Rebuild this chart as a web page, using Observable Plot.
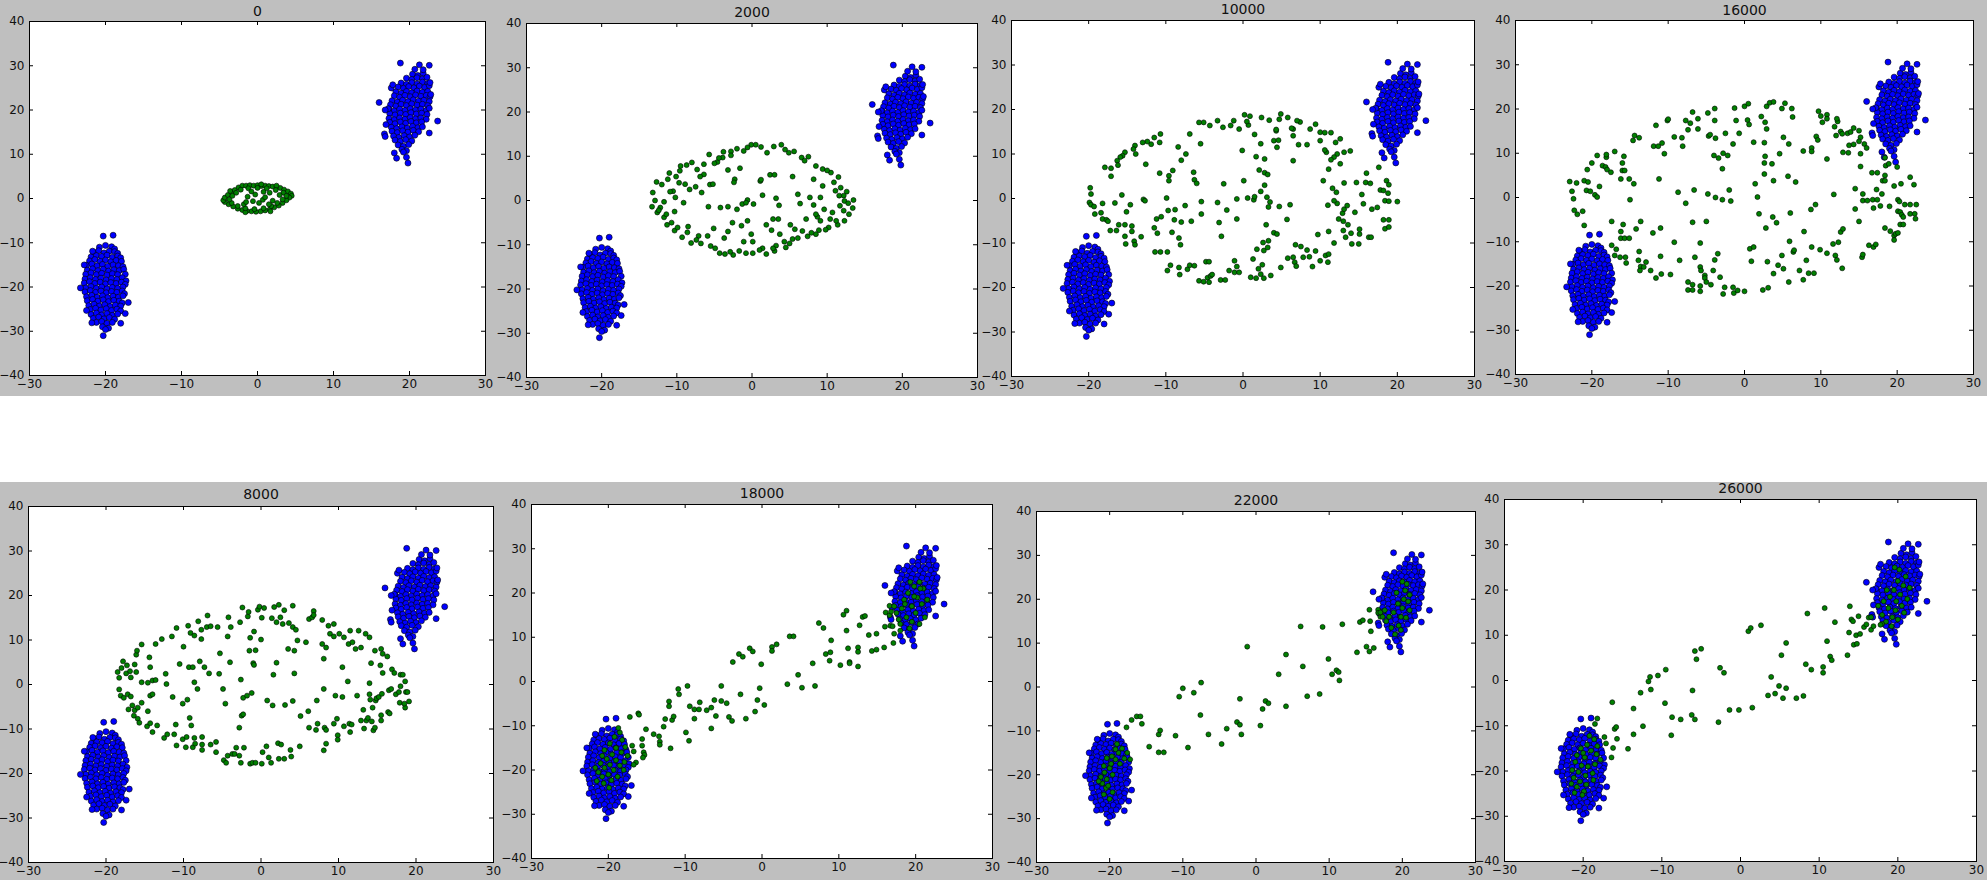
<!DOCTYPE html>
<html>
<head>
<meta charset="utf-8">
<script src="https://cdn.jsdelivr.net/npm/d3@7"></script>
<script src="https://cdn.jsdelivr.net/npm/@observablehq/plot@0.6"></script>
<style>
  body { margin: 0; background: white; width: 1987px; height: 883px; position: relative; overflow: hidden; }
  .band { position: absolute; left: 0; width: 1987px; background: #bfbfbf; }
  svg { position: absolute; }
</style>
</head>
<body>
<div class="band" style="top:0;height:396px"></div>
<div class="band" style="top:482px;height:398px"></div>
<div id="charts"></div>
<script>
var titles = ["0", "2000", "10000", "16000", "8000", "18000", "22000", "26000"];
var xTicks = [-30, -20, -10, 0, 10, 20, 30];
var yTicks = [-40, -30, -20, -10, 0, 10, 20, 30, 40];

// the two blue clusters are the same in every frame
var blueLeft = [
  [-20.8,-11.0],[-20.0,-10.6],[-19.2,-10.9],[-18.8,-11.4],
  [-21.6,-12.1],[-20.9,-11.8],[-20.2,-12.3],[-19.5,-11.9],[-18.8,-12.0],[-18.4,-12.4],
  [-21.9,-13.2],[-21.2,-12.9],[-20.5,-13.1],[-19.8,-12.8],[-19.1,-13.3],[-18.4,-13.0],[-18.0,-13.4],
  [-22.1,-14.1],[-21.4,-13.8],[-20.7,-14.2],[-20.0,-13.9],[-19.3,-14.3],[-18.6,-14.0],[-17.9,-14.2],
  [-22.5,-15.1],[-21.8,-14.8],[-21.1,-15.2],[-20.4,-14.9],[-19.7,-15.3],[-19.0,-15.0],[-18.3,-15.2],[-17.7,-15.4],
  [-22.4,-16.2],[-21.7,-15.9],[-21.0,-16.3],[-20.3,-16.0],[-19.6,-16.4],[-18.9,-16.1],[-18.2,-16.3],[-17.6,-16.0],
  [-22.6,-17.1],[-21.9,-16.8],[-21.2,-17.2],[-20.5,-16.9],[-19.8,-17.3],[-19.1,-17.0],[-18.4,-17.2],[-17.4,-17.1],
  [-22.7,-18.2],[-22.0,-17.9],[-21.3,-18.3],[-20.6,-18.0],[-19.9,-18.4],[-19.2,-18.1],[-18.5,-18.3],[-17.8,-17.9],[-17.3,-18.6],
  [-22.8,-19.1],[-22.1,-18.8],[-21.4,-19.2],[-20.7,-18.9],[-20.0,-19.3],[-19.3,-19.0],[-18.6,-19.2],[-17.9,-18.9],[-17.4,-19.4],
  [-22.6,-20.2],[-21.9,-19.9],[-21.2,-20.3],[-20.5,-20.0],[-19.8,-20.4],[-19.1,-20.1],[-18.4,-20.3],[-17.7,-20.0],
  [-22.7,-21.1],[-22.0,-20.8],[-21.3,-21.2],[-20.6,-20.9],[-19.9,-21.3],[-19.2,-21.0],[-18.5,-21.2],[-17.8,-20.9],[-17.5,-21.5],
  [-22.5,-22.2],[-21.8,-21.9],[-21.1,-22.3],[-20.4,-22.0],[-19.7,-22.4],[-19.0,-22.1],[-18.3,-22.3],[-17.7,-22.0],
  [-22.4,-23.1],[-21.7,-22.8],[-21.0,-23.2],[-20.3,-22.9],[-19.6,-23.3],[-18.9,-23.0],[-18.2,-23.2],[-17.8,-23.6],
  [-22.2,-24.2],[-21.5,-23.9],[-20.8,-24.3],[-20.1,-24.0],[-19.4,-24.4],[-18.7,-24.1],[-18.0,-24.3],
  [-22.0,-25.1],[-21.3,-24.8],[-20.6,-25.2],[-19.9,-24.9],[-19.2,-25.3],[-18.5,-25.0],[-18.0,-25.4],
  [-21.9,-26.2],[-21.2,-25.9],[-20.5,-26.3],[-19.8,-26.0],[-19.1,-26.4],[-18.4,-26.1],
  [-21.6,-27.1],[-20.9,-26.8],[-20.2,-27.2],[-19.5,-26.9],[-18.8,-27.3],
  [-21.2,-28.0],[-20.5,-27.8],[-19.8,-28.2],[-19.1,-28.0],
  [-20.4,-29.0],[-19.6,-29.3],
  [-20.3,-8.5],[-19.0,-8.3],[-23.3,-20.2],[-20.3,-31.0],[-20.0,-29.6],[-17.0,-23.5],
  [-22.8,-15.0],[-21.7,-11.9],[-22.5,-25.3],[-17.4,-26.0],[-18.0,-28.2],[-21.8,-28.1]
];
var blueRight = [
  [20.4,28.1],[21.1,27.8],[21.8,28.3],
  [19.6,27.2],[20.3,26.9],[21.0,27.3],[21.7,27.0],[22.3,27.4],
  [18.9,26.1],[19.6,25.8],[20.3,26.2],[21.0,25.9],[21.7,26.3],[22.4,26.0],
  [18.5,25.2],[19.2,24.9],[19.9,25.3],[20.6,25.0],[21.3,25.4],[22.0,25.1],[22.6,25.5],
  [18.2,24.1],[18.9,23.8],[19.6,24.2],[20.3,23.9],[21.0,24.3],[21.7,24.0],[22.4,24.2],
  [18.0,23.2],[18.7,22.9],[19.4,23.3],[20.1,23.0],[20.8,23.4],[21.5,23.1],[22.2,23.3],[22.7,23.0],
  [17.7,22.1],[18.4,21.8],[19.1,22.2],[19.8,21.9],[20.5,22.3],[21.2,22.0],[21.9,22.2],[22.6,21.9],
  [17.5,21.2],[18.2,20.9],[18.9,21.3],[19.6,21.0],[20.3,21.4],[21.0,21.1],[21.7,21.3],[22.4,21.0],
  [17.3,20.1],[18.0,19.8],[18.7,20.2],[19.4,19.9],[20.1,20.3],[20.8,20.0],[21.5,20.2],[22.2,19.9],[22.6,20.4],
  [17.4,19.2],[18.1,18.9],[18.8,19.3],[19.5,19.0],[20.2,19.4],[20.9,19.1],[21.6,19.3],[22.3,19.0],
  [17.3,18.1],[18.0,17.8],[18.7,18.2],[19.4,17.9],[20.1,18.3],[20.8,18.0],[21.5,18.2],[22.2,17.9],
  [17.4,17.2],[18.1,16.9],[18.8,17.3],[19.5,17.0],[20.2,17.4],[20.9,17.1],[21.6,17.3],
  [17.6,16.1],[18.3,15.8],[19.0,16.2],[19.7,15.9],[20.4,16.3],[21.1,16.0],[21.7,16.2],
  [17.7,15.2],[18.4,14.9],[19.1,15.3],[19.8,15.0],[20.5,15.4],[21.2,15.1],
  [17.9,14.1],[18.6,13.8],[19.3,14.2],[20.0,13.9],[20.7,14.3],
  [18.1,13.2],[18.8,12.9],[19.5,13.3],[20.3,13.0],
  [18.5,12.1],[19.2,11.8],[19.9,12.2],
  [19.0,11.1],[19.6,10.8],
  [18.8,30.6],[21.3,30.2],[22.6,30.1],[20.7,29.2],[21.8,29.1],[16.0,21.7],[23.7,17.5],
  [16.9,16.7],[17.6,25.0],[17.8,25.7],[16.7,14.6],[16.8,14.0],[18.0,10.3],[18.3,9.1],
  [19.6,9.3],[19.8,8.0],[19.2,10.5],[22.6,14.8],[22.8,23.5],[22.7,26.2],[17.2,20.3],[16.8,20.0]
];

var green0 = [
  [-2.5,2.5],[-2.0,2.9],[-1.5,2.9],[-1.0,3.0],[-0.5,2.9],[0.0,3.0],[0.5,2.8],[1.0,2.9],[1.5,2.8],
  [2.0,2.7],[2.5,2.6],[3.0,2.4],[3.5,2.0],[4.0,1.6],[4.4,1.1],[4.5,0.6],[4.2,0.2],[3.8,-0.4],
  [3.3,-1.0],[2.8,-1.6],[2.2,-2.0],[1.6,-2.5],[1.0,-2.7],[0.4,-2.9],[-0.2,-3.0],[-0.8,-2.9],
  [-1.4,-2.8],[-2.0,-2.6],[-2.6,-2.3],[-3.2,-1.8],[-3.8,-1.3],[-4.3,-0.8],[-4.5,-0.4],[-4.3,0.2],
  [-3.9,0.8],[-3.4,1.4],[-3.0,1.9],[-3.6,1.7],[0.5,3.2],[2.5,2.9],[-1.6,-3.1],[1.7,-2.9],
  [-2.2,2.0],[-1.2,2.3],[0.0,2.4],[1.2,2.3],[2.4,1.9],[3.4,1.3],[3.8,0.6],[3.3,-0.2],[2.6,-1.0],
  [1.8,-1.7],[0.8,-2.2],[-0.4,-2.4],[-1.6,-2.2],[-2.6,-1.7],[-3.4,-1.0],[-3.7,-0.2],[-3.3,0.6],
  [-2.8,1.3],[2.9,0.8],[-1.8,-1.3],
  [-1.3,0.4],[-0.6,-0.6],[0.2,-1.0],[0.7,-0.3],[1.0,0.3],[-0.3,0.9],[1.6,1.3],[-1.5,-0.8],
  [0.8,1.5],[-0.8,1.6],[2.0,-0.5],[1.5,-1.3]
];

var green2000 = [
  [-0.1,12.6],[0.5,12.6],[-0.6,12.0],[-2.0,11.7],[-2.8,11.1],[-3.8,11.0],[-3.9,9.7],[-2.8,10.2],
  [-5.7,10.4],[-6.4,8.2],[-8.0,8.6],[-8.7,8.0],[-9.5,7.8],[-9.6,6.7],[-11.0,6.2],[-11.2,4.8],
  [-12.7,4.2],[-13.2,1.8],[-13.3,-1.4],[-12.9,0.0],[-12.6,-2.7],[-11.7,-3.8],[-11.3,-5.5],[-10.3,-6.8],
  [-9.3,-8.3],[-8.1,-9.6],[-6.8,-9.7],[-5.5,-10.3],[-4.3,-11.9],[-3.6,-12.1],[-2.5,-12.3],[-1.7,-11.4],
  [-0.8,-11.9],[0.1,-11.9],[1.9,-12.1],[3.0,-11.4],[3.2,-10.2],[4.3,-9.3],[4.5,-10.6],[5.4,-8.7],
  [6.1,-8.5],[7.4,-8.1],[8.5,-7.6],[8.9,-6.7],[10.2,-6.1],[11.4,-5.5],[12.3,-4.6],[12.9,-3.1],
  [13.4,-1.7],[13.5,0.1],[12.2,1.1],[11.8,2.9],[11.5,5.3],[10.5,6.3],[9.4,7.1],[8.5,7.8],
  [7.5,9.9],[6.6,9.7],[5.6,11.1],[4.9,10.8],[3.9,12.6],[2.9,12.2],[2.0,10.8],
  [2.4,5.8],[3.0,5.8],[1.1,4.4],[1.4,1.2],[3.2,0.5],[3.6,-1.1],[-0.6,0.1],[-1.3,-0.8],
  [-2.0,-2.0],[-3.2,-1.4],[-4.2,-1.6],[-5.8,-1.4],[-6.7,1.8],[-7.5,3.1],[-8.3,2.5],[-9.1,-0.5],
  [-8.9,3.7],[-9.7,4.0],[-10.5,2.1],[-5.6,3.6],[-5.2,3.7],[-6.4,5.9],[-6.9,5.4],[-3.2,6.9],
  [-1.6,7.3],[-2.3,4.8],[-2.4,4.1],[6.1,1.4],[6.4,-0.7],[8.2,-1.0],[9.1,0.7],[9.4,3.3],
  [8.2,4.8],[5.4,5.4],[2.8,-4.2],[3.5,-4.2],[1.9,-5.5],[2.6,-6.7],[3.7,-7.6],[5.1,-5.5],
  [5.7,-6.5],[6.7,-6.9],[7.2,-4.2],[8.7,-3.7],[9.1,-4.6],[10.4,-4.2],[11.7,-1.2],[11.6,1.1],
  [10.9,4.1],[-0.6,-4.6],[-1.4,-5.7],[-2.6,-5.0],[-3.2,-7.0],[-3.7,-8.5],[-5.1,-6.3],[-5.9,-8.0],
  [-7.1,-8.0],[-8.5,-5.9],[-8.6,-7.2],[-10.7,-5.0],[-10.3,-2.5],[-11.4,-3.1],[-12.2,-1.6],[-11.7,-0.3],
  [-10.9,2.0],[-10.2,0.7],[-0.1,-7.6],[0.1,-9.3],[-1.1,-9.3],[1.4,-10.8],[2.8,-10.8],[0.2,-0.8],
  [-0.8,-0.5],[1.2,4.7],[7.7,0.7],[8.5,-3.1],[9.6,-2.0],[10.7,-2.7],[12.2,-2.3],[12.3,-0.1],
  [11.1,2.2],[-4.6,8.7],[-5.0,8.4],[-7.3,7.0],[-10.1,5.4],[-12.0,3.6],[-12.4,-2.2],[-9.9,-6.1],
  [-7.4,-8.9],[-4.9,-10.8],[-2.9,-11.6],[1.0,-11.2],[5.0,-9.7],[7.9,-7.3],[9.8,-6.6],[11.2,-4.6],
  [12.8,-0.6],[12.6,2.0],[10.0,6.8],[7.0,9.0],[4.4,11.5],[1.2,12.1],[-1.1,11.2],[-4.4,9.6]
];

var green10000 = [
  [-19.8,2.4],[-19.7,1.0],[-19.9,-0.9],[-19.7,-1.4],[-19.3,-1.8],[-19.2,-3.5],[-18.4,-3.2],[-18.2,-1.1],
  [-18.2,-4.6],[-17.7,-4.8],[-17.5,-5.1],[-17.2,-7.2],[-16.4,-7.2],[-16.6,-1.0],[-15.7,0.8],[-16.1,-5.9],
  [-15.3,-5.9],[-15.1,-3.0],[-15.3,-8.5],[-15.2,-10.2],[-14.6,-1.4],[-14.4,-6.2],[-14.4,-7.4],[-14.1,-9.6],
  [-14.0,-10.4],[-13.2,-8.6],[-12.9,-0.2],[-12.7,-0.5],[-11.5,-6.6],[-11.2,-4.6],[-11.1,-7.8],[-10.6,-4.1],
  [-11.4,-12.0],[-10.7,-12.0],[-9.8,-12.0],[-9.9,0.1],[-8.8,-2.5],[-8.9,-4.8],[-8.0,-5.3],[-8.3,-8.9],
  [-8.1,-10.4],[-9.2,-7.6],[-9.8,-16.2],[-9.4,-15.0],[-8.3,-15.5],[-8.2,-17.1],[-7.5,-1.6],[-6.7,-5.1],
  [-5.4,-0.7],[-5.4,-3.5],[-7.2,-15.9],[-6.9,-15.0],[-6.3,-15.1],[-5.7,-18.5],[-5.1,-18.7],[-4.6,-17.8],
  [-4.4,-18.8],[-4.2,-17.4],[-4.0,-17.1],[-2.9,-18.3],[-2.3,-18.3],[-4.8,-14.2],[-4.4,-14.2],[-3.3,-0.9],
  [-3.1,-5.4],[-2.8,-8.5],[-2.1,-2.6],[-1.1,-14.0],[-0.8,-15.3],[-1.1,-16.6],[-0.5,-16.6],[-1.8,-16.2],
  [-0.8,-0.1],[1.0,-17.7],[1.7,-17.9],[2.7,-17.9],[2.3,-17.0],[2.0,-15.8],[1.3,-13.6],[2.5,-14.9],
  [2.7,-11.7],[3.2,-11.0],[3.3,-9.5],[3.6,-17.3],[4.0,-7.7],[1.4,-0.3],[0.6,0.1],[1.5,0.4],
  [2.3,1.6],[2.8,3.0],[3.1,0.3],[3.5,-0.8],[3.3,-1.9],[4.7,-1.8],[5.7,-4.7],[6.1,-1.4],
  [4.9,-15.5],[5.8,-13.4],[6.5,-13.2],[6.7,-14.3],[6.9,-15.2],[6.8,-10.4],[7.5,-10.8],[7.8,-13.2],
  [8.3,-11.6],[8.6,-13.1],[9.0,-15.3],[9.4,-11.8],[9.7,-8.1],[10.0,-14.0],[10.7,-12.8],[11.0,-14.3],
  [11.1,-12.5],[11.8,-10.0],[11.1,-7.4],[13.0,-7.2],[13.3,-8.7],[14.0,-7.8],[14.1,-10.2],[15.1,-6.9],
  [15.1,-8.0],[15.0,-10.2],[16.3,-8.7],[16.6,-8.7],[13.0,-5.1],[13.6,-5.9],[12.4,-4.6],[12.9,-3.3],
  [13.1,-2.4],[13.5,-1.6],[14.5,-3.1],[12.2,-1.1],[11.0,-1.5],[11.6,2.3],[12.1,1.4],[13.1,3.5],
  [14.7,3.6],[15.4,0.9],[15.6,-1.2],[15.9,3.6],[16.5,3.4],[16.0,5.7],[16.7,-2.4],[17.4,-2.0],
  [17.8,1.9],[18.2,1.8],[18.6,4.0],[18.9,3.1],[18.8,1.2],[18.4,-0.5],[18.9,-0.6],[20.0,-0.7],
  [18.2,-4.8],[18.9,-4.8],[18.4,-6.8],[18.9,-6.4],[17.6,7.0],[13.9,10.7],[13.1,10.4],[12.2,10.0],
  [11.8,9.3],[11.4,8.7],[12.6,7.8],[11.1,6.6],[10.4,4.0],[11.8,-0.5],[12.6,13.4],[12.0,12.6],
  [10.8,10.4],[10.6,10.9],[10.0,13.0],[10.0,14.9],[10.6,14.8],[11.4,14.8],[9.4,16.7],[8.7,15.6],
  [8.3,12.1],[7.2,12.1],[6.5,14.1],[6.5,15.6],[7.4,17.2],[7.0,17.5],[5.8,18.2],[4.9,19.0],
  [4.7,17.8],[3.4,17.6],[2.4,18.2],[4.3,15.2],[4.3,15.5],[4.0,13.0],[4.6,13.1],[4.4,11.5],
  [2.3,12.3],[1.7,9.4],[2.8,8.9],[2.1,6.4],[2.8,5.8],[3.2,5.4],[6.5,8.5],[6.3,15.8],
  [1.5,14.4],[0.7,16.5],[0.5,17.3],[0.9,18.5],[0.2,18.8],[-0.5,15.6],[-0.1,10.8],[0.1,4.0],
  [-1.2,17.5],[-1.6,16.4],[-2.6,16.0],[-3.3,17.5],[-4.3,16.4],[-5.1,17.1],[-5.7,17.1],[-5.5,12.3],
  [-6.9,14.5],[-7.4,10.0],[-8.0,8.6],[-8.4,11.6],[-9.1,6.3],[-9.6,5.1],[-9.6,4.0],[-10.7,14.5],
  [-10.8,12.6],[-10.8,5.7],[-11.5,13.7],[-11.9,12.2],[-12.4,12.8],[-12.6,7.7],[-13.0,12.6],[-14.0,11.9],
  [-14.2,11.1],[-13.9,10.0],[-15.3,10.4],[-15.6,9.6],[-15.9,9.3],[-16.3,8.5],[-16.2,7.5],[-17.1,6.8],
  [-17.9,7.0],[-17.1,5.0],[-6.4,5.9],[-6.3,4.2],[-6.0,3.4],[-9.7,-2.7],[-2.5,3.3],[-0.8,-4.6],
  [3.0,-5.9],[4.4,-8.0],[1.8,-11.4],[2.6,-9.9]
];

var green16000 = [
  [-22.9,3.6],[-22.6,1.4],[-22.4,-0.3],[-22.3,-2.9],[-21.9,-3.8],[-21.2,-3.1],[-22.0,3.3],[-21.0,3.8],
  [-20.5,3.5],[-20.7,1.6],[-20.2,1.4],[-19.6,0.6],[-19.3,0.1],[-19.0,2.5],[-21.0,-6.3],[-20.6,6.3],
  [-20.0,7.8],[-19.3,9.5],[-18.6,7.2],[-18.2,6.9],[-18.0,6.3],[-17.5,5.7],[-18.1,9.1],[-18.1,9.7],
  [-17.0,10.4],[-16.0,6.1],[-15.8,9.3],[-16.0,7.8],[-15.7,6.1],[-16.2,4.2],[-15.1,4.2],[-14.5,3.1],
  [-15.0,-0.5],[-14.6,12.9],[-14.4,14.0],[-13.8,13.5],[-17.4,-5.4],[-15.9,-6.1],[-16.2,-7.7],[-16.2,-9.2],
  [-15.7,-9.2],[-17.4,-10.8],[-16.8,-11.7],[-17.0,-13.1],[-16.3,-13.5],[-15.6,-13.5],[-15.5,-14.8],[-15.1,-9.2],
  [-14.2,-7.1],[-13.6,-5.4],[-13.8,-12.2],[-13.9,-14.2],[-13.6,-15.6],[-13.7,-16.5],[-13.2,-15.7],[-12.9,-14.6],
  [-12.3,-16.5],[-12.0,-8.0],[-11.6,-18.2],[-11.0,-13.3],[-10.9,-17.3],[-9.7,-17.4],[-11.0,-6.9],[-11.2,4.2],
  [-11.9,11.6],[-11.3,11.6],[-11.6,16.3],[-10.8,12.3],[-10.5,9.9],[-10.1,17.4],[-10.0,17.7],[-9.2,13.7],
  [-8.2,13.5],[-8.1,11.6],[-7.7,17.4],[-7.4,15.3],[-7.1,16.8],[-6.8,19.3],[-8.7,1.2],[-7.7,-1.3],
  [-9.2,-10.1],[-8.5,-14.2],[-7.4,-19.1],[-7.4,-20.9],[-6.8,-20.9],[-6.8,-19.7],[-6.6,1.7],[-6.8,-5.6],
  [-6.5,-13.5],[-6.1,17.8],[-6.1,15.5],[-5.8,-10.3],[-5.8,-15.7],[-5.7,-16.5],[-5.8,-20.0],[-5.8,-21.2],
  [-5.2,-17.6],[-5.2,-18.2],[-5.0,-19.1],[-5.0,-5.4],[-4.8,0.8],[-4.7,13.9],[-4.5,14.2],[-4.8,19.1],
  [-4.4,-19.7],[-4.1,-16.5],[-4.0,9.5],[-3.9,17.4],[-3.9,20.1],[-3.8,0.0],[-3.8,13.4],[-3.9,-14.1],
  [-3.5,-12.7],[-3.4,8.9],[-3.2,-18.0],[-2.9,6.5],[-2.9,-0.5],[-2.8,10.0],[-2.8,-21.8],[-2.5,14.5],
  [-2.2,9.5],[-2.6,-20.3],[-2.0,1.7],[-1.8,-0.8],[-1.5,12.1],[-1.5,-20.3],[-1.4,-21.6],[-1.3,20.2],
  [-1.1,17.4],[-0.9,-21.0],[-0.7,14.5],[0.0,-21.2],[0.0,20.6],[0.5,21.2],[0.4,17.5],[0.6,16.5],
  [0.7,-11.6],[1.2,-11.2],[0.9,-14.4],[1.2,12.5],[1.4,3.1],[1.7,0.1],[1.9,-3.7],[2.2,18.3],
  [2.7,17.0],[2.9,15.5],[2.6,12.4],[2.6,7.8],[2.6,5.3],[2.7,9.3],[2.8,-6.9],[2.4,-20.9],
  [3.1,-20.4],[3.0,-14.5],[2.9,20.6],[3.3,21.4],[3.8,21.6],[3.6,7.6],[3.8,3.8],[3.7,-4.4],
  [3.8,-17.2],[4.2,-5.7],[4.4,-15.3],[4.9,20.1],[5.1,13.6],[4.6,9.9],[4.9,-13.1],[5.1,-16.1],
  [5.3,21.3],[5.7,4.8],[5.8,12.1],[5.8,-19.1],[5.9,-9.9],[6.0,-3.5],[6.2,20.1],[6.3,18.2],
  [6.4,-12.3],[6.5,-11.9],[6.7,3.5],[7.2,-16.5],[7.7,10.5],[7.7,-18.6],[7.8,-7.7],[8.1,-14.2],
  [8.4,-17.1],[8.8,11.2],[8.8,10.4],[8.7,-2.7],[9.1,-17.1],[8.8,-11.2],[9.3,-1.6],[9.4,13.8],
  [9.6,13.0],[9.7,19.5],[10.0,18.4],[10.2,17.0],[9.9,-11.8],[10.8,18.7],[10.8,17.8],[10.8,8.7],
  [10.8,-12.6],[11.6,-10.5],[11.7,0.7],[11.8,16.0],[12.0,14.0],[12.2,17.2],[12.1,17.8],[11.9,-13.1],
  [12.1,-14.1],[12.3,-10.1],[12.6,14.9],[12.8,14.4],[12.6,-7.8],[12.9,-7.1],[12.8,-16.0],[12.9,10.2],
  [13.5,14.5],[13.6,10.1],[13.9,14.8],[13.7,11.8],[14.3,15.7],[14.3,12.0],[14.5,2.0],[14.5,-2.6],
  [15.0,-5.4],[15.0,15.1],[15.2,13.6],[15.2,9.9],[15.2,7.0],[15.0,12.7],[15.4,-13.5],[15.5,-12.9],
  [15.7,12.1],[15.5,0.8],[15.5,-0.7],[16.1,-0.7],[16.0,11.2],[16.3,-10.8],[16.7,5.6],[16.8,-0.5],
  [16.9,-2.4],[16.9,-11.2],[17.2,-10.6],[17.4,5.6],[17.3,1.8],[17.4,-0.5],[17.8,-1.9],[18.0,0.8],
  [18.1,3.8],[18.4,5.0],[18.4,3.8],[18.4,-6.9],[18.4,9.0],[18.5,7.2],[18.9,7.6],[19.0,-2.0],
  [19.1,-7.6],[19.6,-8.6],[19.6,-9.6],[19.8,-8.2],[19.6,2.6],[20.0,6.9],[20.1,-0.5],[20.1,-3.1],
  [20.3,-0.9],[20.5,3.1],[20.4,-3.3],[20.6,-3.9],[20.8,-4.4],[21.0,-1.6],[20.4,-6.1],[20.8,-6.1],
  [20.1,-8.0],[21.7,4.6],[22.2,2.9],[21.7,-1.6],[21.7,-3.7],[22.3,-3.7],[22.4,-4.8],[22.5,-1.6]
];

var green8000 = [
  [-18.3,-1.1],[-18.5,2.8],[-18.3,1.5],[-18.0,3.7],[-17.8,5.2],[-17.4,2.5],[-17.3,4.3],[-16.9,3.0],
  [-16.8,1.6],[-16.1,6.7],[-16.1,2.8],[-16.0,7.6],[-15.4,9.0],[-16.3,4.5],[-15.4,0.5],[-18.1,-2.5],
  [-17.7,-3.0],[-17.2,-2.2],[-16.8,-2.7],[-17.1,-5.6],[-16.6,-4.7],[-16.3,-5.8],[-15.9,-5.2],[-16.4,-7.0],
  [-15.9,-7.7],[-15.7,-8.6],[-15.4,-4.1],[-14.6,-6.0],[-14.7,-9.4],[-14.3,-2.5],[-14.0,-2.2],[-14.3,3.9],
  [-14.4,6.1],[-14.6,0.4],[-14.0,0.9],[-13.6,1.0],[-14.0,-10.7],[-14.3,-8.7],[-13.4,-9.2],[-13.6,9.1],
  [-12.8,10.2],[-12.3,2.4],[-12.2,0.1],[-12.5,-12.0],[-12.1,-11.2],[-11.4,-2.8],[-11.2,-11.2],[-11.0,-9.0],
  [-10.9,-13.7],[-11.5,10.8],[-10.9,12.7],[-10.5,4.6],[-10.1,-4.3],[-10.0,8.5],[-10.1,-12.3],[-9.7,-14.1],
  [-9.6,-11.8],[-9.5,-3.4],[-9.4,13.2],[-9.2,-7.5],[-9.3,3.9],[-9.1,11.6],[-9.0,-9.2],[-8.8,-14.1],
  [-8.6,0.5],[-8.8,3.9],[-8.6,11.0],[-8.6,-12.0],[-8.5,-13.3],[-8.2,-1.0],[-8.1,14.2],[-7.9,5.2],
  [-7.7,12.3],[-7.7,10.2],[-7.6,-11.8],[-7.6,-13.5],[-7.6,-14.7],[-7.3,3.9],[-7.0,12.9],[-6.9,15.5],
  [-6.7,2.5],[-6.5,13.1],[-6.5,-13.5],[-5.8,-12.9],[-5.8,-15.2],[-5.4,2.4],[-5.3,7.0],[-5.6,12.9],
  [-4.9,-1.0],[-4.8,-17.0],[-4.6,-4.3],[-4.5,-17.6],[-4.3,10.8],[-4.2,15.1],[-4.3,-16.0],[-4.0,5.0],
  [-3.9,12.9],[-3.7,-15.6],[-3.4,-15.6],[-3.2,-14.2],[-2.8,-9.7],[-2.8,-16.0],[-2.7,14.0],[-2.6,1.1],
  [-2.6,-17.6],[-2.5,-7.0],[-2.4,17.3],[-2.3,-3.0],[-2.3,-6.7],[-2.2,-14.2],[-1.8,-2.5],[-1.7,15.3],
  [-1.6,16.3],[-1.5,7.6],[-1.4,10.5],[-1.4,-17.8],[-1.1,-17.6],[-1.2,-1.9],[-1.0,4.8],[-0.9,4.4],
  [-0.9,11.9],[-0.7,7.7],[-0.7,-17.6],[-0.4,16.8],[-0.2,17.5],[0.0,10.1],[0.1,15.0],[0.1,-17.8],
  [0.2,-15.2],[0.4,17.2],[0.7,-13.9],[0.8,-3.6],[1.0,-16.4],[1.3,-17.6],[1.4,14.9],[1.5,-4.7],
  [1.6,2.2],[1.7,17.4],[2.0,4.9],[2.0,14.0],[2.2,-13.2],[2.3,17.9],[2.3,-16.7],[2.5,15.1],
  [2.6,-13.5],[2.8,13.6],[3.0,16.7],[3.1,-4.6],[3.0,-16.7],[3.5,8.0],[3.6,13.8],[3.8,-14.7],
  [3.9,-16.2],[4.1,17.7],[4.1,12.9],[4.1,-3.7],[4.3,2.5],[4.3,7.6],[4.5,12.3],[4.7,9.9],
  [5.0,-13.9],[5.1,-7.1],[5.8,9.5],[6.1,-6.0],[6.2,14.7],[6.2,-9.7],[6.6,15.1],[6.8,16.5],
  [6.8,15.6],[7.1,-10.2],[7.2,-3.6],[7.3,-8.8],[7.9,14.5],[7.9,9.1],[8.1,-1.0],[8.1,5.8],
  [8.4,8.3],[8.2,-9.7],[8.4,-13.3],[8.1,-14.8],[8.4,-10.2],[8.7,13.2],[8.9,11.4],[9.4,13.6],
  [9.4,10.8],[9.6,-2.5],[9.4,-8.8],[9.8,-7.7],[9.9,-11.4],[9.9,-12.4],[10.1,11.4],[10.5,3.9],
  [10.5,-2.8],[10.7,10.6],[10.7,-9.4],[11.2,0.7],[11.3,9.1],[11.4,-8.8],[11.5,12.1],[11.5,-10.7],
  [11.7,-9.0],[11.8,9.5],[12.2,8.0],[12.4,-2.5],[12.6,12.1],[12.9,8.3],[12.9,-8.1],[13.2,-5.7],
  [13.3,-9.9],[13.5,11.4],[13.6,-8.1],[13.8,-7.5],[14.0,10.6],[14.0,0.3],[14.0,-2.2],[14.1,-3.4],
  [14.2,4.8],[14.3,-8.3],[14.4,-5.2],[14.5,-10.3],[14.7,-9.7],[14.8,-3.6],[14.7,7.6],[14.9,-3.1],
  [15.2,-2.8],[15.4,4.3],[15.5,8.0],[15.5,-6.9],[15.5,-8.1],[15.7,2.6],[15.7,6.9],[15.6,-2.1],
  [16.3,6.3],[16.4,-6.2],[16.5,-1.3],[16.6,-6.5],[16.8,-1.0],[16.9,3.4],[17.2,2.6],[17.4,-2.2],
  [17.8,-1.7],[17.9,-4.1],[18.0,2.2],[18.0,-0.4],[18.3,2.2],[18.6,0.7],[18.6,-5.2],[18.7,-1.7],
  [18.9,-1.7],[19.1,-3.8],[18.5,-4.3]
];

var green18000 = [
  [-17.2,-8.0],[-16.1,-7.2],[-16.0,-7.5],[-16.9,-14.5],[-16.7,-15.8],[-16.4,-18.3],[-16.7,-18.8],[-15.6,-13.0],
  [-15.6,-14.5],[-15.4,-16.0],[-15.3,-16.6],[-15.5,-17.2],[-15.1,-10.8],[-14.1,-11.9],[-13.4,-12.4],[-13.3,-13.6],
  [-13.3,-14.3],[-12.8,-10.2],[-12.6,-8.5],[-12.1,-4.5],[-12.1,-5.6],[-11.9,-15.1],[-11.7,-8.7],[-11.5,-7.9],
  [-10.9,-1.7],[-10.8,-2.9],[-9.9,-11.5],[-9.7,-1.0],[-9.5,-13.4],[-9.4,-5.6],[-8.8,-8.4],[-8.8,-6.3],
  [-8.2,-6.3],[-8.1,-4.7],[-7.2,-6.5],[-6.6,-10.6],[-6.6,-5.9],[-6.2,-4.2],[-6.0,-7.8],[-5.3,-1.0],
  [-5.3,-4.4],[-4.6,-4.9],[-4.3,-8.0],[-3.9,-8.9],[-3.8,4.4],[-3.0,6.2],[-2.5,5.6],[-2.8,-2.9],
  [-2.1,-8.4],[-1.6,7.5],[-1.2,6.8],[-0.9,-6.8],[-0.6,-4.2],[-0.3,-1.5],[-0.1,3.9],[0.3,-5.3],
  [1.3,7.8],[1.3,6.9],[1.9,8.4],[3.3,-0.6],[3.6,10.2],[4.1,10.2],[4.7,1.5],[5.2,-1.4],
  [6.6,4.1],[6.9,-1.0],[7.4,13.2],[8.0,12.1],[8.3,6.2],[8.8,4.7],[8.9,6.6],[9.0,9.3],
  [10.2,3.7],[10.6,15.1],[11.0,16.0],[11.0,11.5],[11.2,7.5],[11.4,4.4],[11.4,4.1],[12.5,7.7],
  [12.5,6.7],[12.5,3.4],[12.7,12.7],[13.1,14.6],[13.4,14.8],[13.9,10.5],[14.3,6.9],[14.9,7.2],
  [14.9,10.8],[15.9,7.7],[16.0,12.4],[16.1,15.6],[16.6,17.1],[16.7,12.6],[17.1,8.7],[17.2,10.8],
  [16.6,15.0],
  [-20.5,-15.5],[-19.8,-14.0],[-19.2,-12.5],[-18.5,-11.5],[-19.5,-16.5],[-20.2,-17.5],[-21.0,-18.5],[-20.5,-19.5],
  [-19.8,-18.8],[-19.0,-17.8],[-18.3,-16.0],[-17.8,-14.8],[-21.3,-20.5],[-20.8,-21.5],[-20.0,-21.0],[-19.3,-20.0],
  [-18.5,-19.0],[-17.9,-18.2],[-21.5,-22.5],[-20.6,-23.0],[-19.6,-22.3],[-18.8,-21.5],[-18.0,-20.0],[-17.5,-16.8],
  [-19.0,-15.0],[-20.8,-16.8],[-21.7,-19.5],[-19.9,-24.0],[-18.2,-13.2],[-18.7,-10.5],
  [17.2,17.0],[17.5,15.5],[18.0,13.0],[18.2,16.5],[18.5,18.5],[18.8,14.5],[19.0,20.0],[19.2,12.0],
  [19.5,17.0],[19.8,21.5],[20.0,15.5],[20.2,19.0],[20.5,22.5],[20.8,17.5],[21.0,21.0],[21.2,14.5],
  [18.0,11.5],[17.0,12.5],[16.8,15.8],[19.5,13.5],[20.5,13.0],[21.5,18.5],[18.6,17.5],[19.8,19.2],
  [20.6,21.0],[17.8,14.0],[19.3,22.5]
];

var green22000 = [
  [-17.7,-9.2],[-17.0,-7.5],[-16.3,-6.7],[-15.8,-6.7],[-15.6,-8.4],[-14.6,-13.6],[-13.3,-10.8],[-13.1,-9.9],
  [-13.3,-14.9],[-12.6,-14.9],[-11.0,-11.1],[-10.5,-2.2],[-10.0,-0.3],[-9.3,-13.8],[-8.5,-1.3],[-7.6,-6.4],
  [-7.5,1.0],[-6.5,-10.8],[-4.7,-13.0],[-4.0,-9.5],[-2.6,-8.0],[-2.2,-8.6],[-2.2,-2.7],[-2.0,-10.8],
  [-1.2,9.2],[0.6,-8.8],[0.9,-5.0],[1.3,-3.2],[1.7,-3.7],[3.1,2.9],[4.1,7.4],[4.1,-4.4],
  [6.1,13.8],[6.4,4.7],[7.0,-2.1],[8.7,-1.6],[9.1,13.7],[9.9,6.4],[10.4,2.9],[11.0,3.8],
  [11.3,3.4],[11.4,1.5],[11.8,14.3],[13.8,7.9],[14.2,14.8],[14.6,15.2],[15.1,9.2],[15.5,17.6],
  [15.6,15.0],[15.7,12.7],[15.5,8.1],[16.1,8.9],[16.7,17.6],[17.0,16.0],[16.7,16.9],
  [-20.8,-24.5],[-20.5,-23.0],[-21.0,-22.0],[-20.4,-21.0],[-21.2,-20.5],[-20.7,-19.5],[-20.0,-18.5],[-20.8,-18.0],
  [-19.8,-17.5],[-19.2,-16.5],[-19.7,-15.8],[-18.8,-15.0],[-18.3,-14.0],[-19.2,-14.2],[-17.6,-15.0],[-18.0,-16.3],
  [-17.2,-16.5],[-20.2,-22.5],[-19.6,-20.0],[-21.5,-21.5],[-19.0,-13.0],[-20.4,-16.2],[-18.6,-17.5],[-19.6,-24.0],
  [-20.0,-25.5],
  [17.0,17.0],[17.3,16.0],[17.8,15.0],[18.5,13.5],[19.0,12.0],[19.5,14.0],[19.8,16.0],[20.0,18.0],
  [20.2,20.0],[20.4,22.0],[20.6,23.5],[19.4,19.0],[20.8,19.5],[21.0,17.5],[20.5,15.8],[18.8,17.0],
  [17.6,17.5],[19.2,21.5],[20.0,24.0],[21.0,21.0],[19.8,13.0],[18.2,16.0]
];

var green26000 = [
  [-18.2,-8.4],[-18.5,-9.6],[-17.3,-12.5],[-17.1,-13.9],[-16.2,-14.9],[-16.4,-17.0],[-16.3,-4.8],[-16.0,-10.7],
  [-15.8,-10.3],[-15.7,-12.9],[-14.3,-15.1],[-13.6,-6.2],[-13.6,-11.9],[-12.7,-2.7],[-12.4,-10.1],[-11.7,-0.2],
  [-11.5,0.8],[-11.4,-2.0],[-10.5,1.1],[-9.6,-5.0],[-9.5,2.4],[-8.7,-8.1],[-8.8,-12.1],[-7.6,-8.6],
  [-6.2,-7.6],[-6.1,-2.2],[-5.8,-8.6],[-5.8,6.5],[-5.6,4.7],[-5.0,7.0],[-2.8,-9.2],[-2.6,2.8],
  [-2.1,1.7],[-1.4,-6.5],[-0.2,-6.5],[1.0,10.9],[1.3,11.6],[1.5,-6.0],[2.6,12.2],[3.5,-3.3],
  [3.9,0.8],[4.4,-2.9],[4.9,-1.2],[5.2,5.6],[5.4,-3.9],[5.8,8.3],[5.8,-1.7],[7.1,-3.9],
  [8.0,-3.4],[8.3,3.6],[8.5,14.8],[9.0,2.4],[10.5,3.0],[10.5,1.7],[10.7,16.0],[11.0,8.7],
  [11.4,5.3],[11.6,4.5],[12.0,12.9],[13.6,5.6],[13.8,10.6],[13.9,16.4],[14.1,13.5],[14.3,13.1],
  [14.4,7.9],[14.8,8.1],[14.7,10.0],[15.0,14.2],[15.2,10.3],[15.7,11.8],[16.0,12.4],[16.3,13.9],
  [16.6,11.2],[16.6,14.0],[16.9,12.0],
  [-19.2,-12.2],[-18.6,-13.0],[-19.5,-14.2],[-20.3,-15.0],[-19.0,-15.5],[-18.3,-16.3],[-20.8,-16.5],[-19.8,-17.0],
  [-21.0,-18.0],[-20.2,-18.8],[-19.4,-19.0],[-18.5,-18.5],[-21.4,-19.8],[-20.6,-20.2],[-19.7,-21.0],[-18.8,-20.5],
  [-21.2,-21.5],[-20.4,-22.3],[-19.6,-23.0],[-20.8,-23.5],[-19.9,-24.5],[-21.1,-24.8],[-18.2,-14.5],[-17.8,-17.5],
  [-20.0,-16.0],[-21.5,-22.8],[-20.1,-25.3],[-18.7,-22.0],
  [17.5,16.5],[18.0,14.5],[18.5,13.0],[18.2,17.5],[18.8,16.0],[19.0,18.5],[19.3,14.0],[19.5,20.0],
  [19.8,17.5],[20.0,22.0],[20.2,24.5],[20.3,19.0],[20.5,16.5],[20.7,21.0],[21.0,23.0],[21.2,18.0],
  [20.0,13.5],[19.2,12.0],[18.0,12.5],[19.6,25.0],[20.8,15.0],[21.5,20.5],[18.6,20.0],[19.7,15.5],
  [17.8,12.3]
];

var greens = [green0, green2000, green10000, green16000, green8000, green18000, green22000, green26000];

// where each frame's axes box sits on the page: left, top, right, bottom, title centre
var layout = [
  [29, 21, 485, 375, 11],
  [526, 23, 977, 377, 12],
  [1011, 20, 1474, 376, 9],
  [1515, 20, 1973, 374, 10],
  [28, 506, 493, 862, 494],
  [531, 504, 992, 858, 493],
  [1036, 511, 1475, 862, 500],
  [1504, 499, 1976, 861, 488]
];

var blue = blueLeft.concat(blueRight);

function fmt(d) {
  return d < 0 ? "\u2212" + (-d) : String(d);
}

function drawPanel(i) {
  var box = layout[i];
  var mL = 38, mT = 26, mR = 18, mB = 26;
  var w = box[2] - box[0], h = box[3] - box[1];
  var chart = Plot.plot({
    width: w + mL + mR,
    height: h + mT + mB,
    marginLeft: mL, marginTop: mT, marginRight: mR, marginBottom: mB,
    style: { background: "transparent", fontFamily: "DejaVu Sans", fontSize: "12px", color: "#111", overflow: "visible" },
    x: { domain: [-30, 30] },
    y: { domain: [-40, 40] },
    marks: [
      Plot.frame({ fill: "white" }),
      Plot.dot(blue, { x: d => d[0], y: d => d[1], r: 3, fill: "#0000ff", stroke: "#000", strokeWidth: 0.6 }),
      Plot.dot(greens[i], { x: d => d[0], y: d => d[1], r: 2.5, fill: "#008000", stroke: "#000", strokeWidth: 0.6 }),
      // inward ticks on all four sides
      Plot.ruleX(xTicks, { x: d => d, insetTop: h - 4, stroke: "#000" }),
      Plot.ruleX(xTicks, { x: d => d, insetBottom: h - 4, stroke: "#000" }),
      Plot.ruleY(yTicks, { y: d => d, insetLeft: w - 4, stroke: "#000" }),
      Plot.ruleY(yTicks, { y: d => d, insetRight: w - 4, stroke: "#000" }),
      Plot.frame({ stroke: "#000", strokeWidth: 1 }),
      Plot.axisX({ ticks: xTicks, tickSize: 0, tickPadding: 4, tickFormat: fmt, label: null, fontSize: 12 }),
      Plot.axisY({ ticks: yTicks, tickSize: 0, tickPadding: 5, tickFormat: fmt, label: null, fontSize: 12 }),
      Plot.text([titles[i]], { frameAnchor: "top", dy: -(box[1] - box[4]), text: d => d, fontSize: 14, lineAnchor: "middle", fill: "#111" })
    ]
  });
  chart.style.left = (box[0] - mL) + "px";
  chart.style.top = (box[1] - mT) + "px";
  document.getElementById("charts").append(chart);
}

for (var i = 0; i < titles.length; i++) drawPanel(i);
</script>
</body>
</html>
